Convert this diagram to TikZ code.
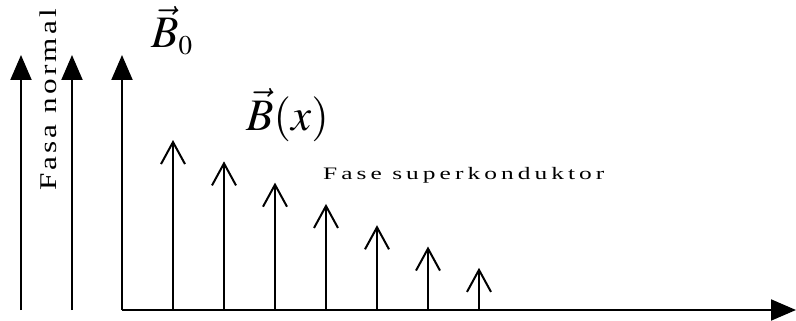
\documentclass[tikz,border=0pt]{standalone}
\usepackage{graphicx}
\usepackage{mathptmx}
\usepackage{fontspec}
\setmainfont{Liberation Serif}
\newfontfamily\normalspaced[LetterSpace=10]{Liberation Serif}
\newfontfamily\superspaced[LetterSpace=16]{Liberation Serif}
\usetikzlibrary{arrows.meta}

\begin{document}
\begin{tikzpicture}[
    x=1pt, y=-1pt,
    axis/.style={-{Triangle[length=25pt, width=21pt]}, line width=2pt},
    field/.style={-{Straight Barb[length=22pt, width=24pt, line width=2pt]}, line width=1.8pt},
    label/.style={inner sep=0pt},
    bigmath/.style={label, font=\fontsize{45}{50}\selectfont}
]
\useasboundingbox (0,0) rectangle (796,321);

% Coordinates
\coordinate (origin) at (122,310);
\coordinate (ytop) at (122,55);
\coordinate (xend) at (796,310);
\coordinate (nabot) at (21,310);
\coordinate (natop) at (21,55);
\coordinate (nbbot) at (72,310);
\coordinate (nbtop) at (72,55);

% Labels
\node[label, rotate=90, font=\normalspaced\fontsize{24}{28}\selectfont] (normal) at (48,100) {\scalebox{1.3}[1]{Fasa normal}};
\node[bigmath, anchor=base west] (bnull) at (151,48) {$\vec{B}_{\scriptscriptstyle 0}$};
\node[bigmath, anchor=base west] (bx) at (246,130) {$\vec{B}(x)$};
\node[label, anchor=base west, font=\superspaced\fontsize{17.5}{21}\selectfont] (super) at (323,179) {\scalebox{1.45}[1]{Fase superkonduktor}};

% Normal phase field
\draw[axis] (nabot) -- (natop);
\draw[axis] (nbbot) -- (nbtop);

% Axes
\draw[axis] (origin) -- (ytop);
\draw[axis] (origin) -- (xend);

% Decaying field inside the superconductor
\foreach \i in {0,...,6} {
    \coordinate (fb\i) at ({173+51*\i},310);
    \coordinate (ft\i) at ({173+51*\i},{140+21.3*\i});
    \draw[field] (fb\i) -- (ft\i);
}

\end{tikzpicture}
\end{document}
